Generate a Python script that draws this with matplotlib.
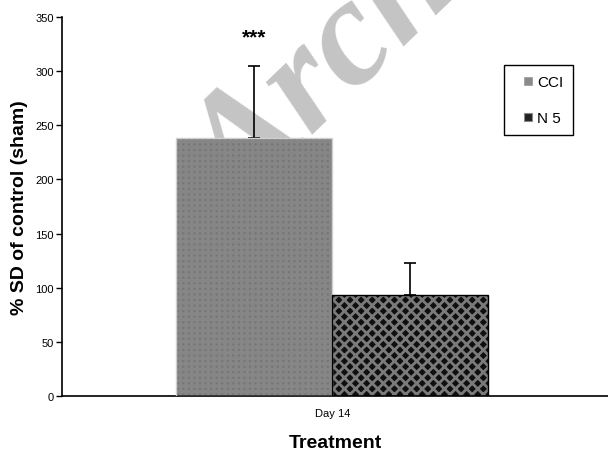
import numpy as np
import matplotlib.pyplot as plt
from matplotlib.lines import Line2D

plt.rcParams['font.family'] = ['Liberation Sans', 'DejaVu Sans']

# data
groups = ['CCI', 'N 5']
values = [238, 93]
errors = [67, 30]
category = 'Day 14'
signif = '***'

face = ['#767676', '#0f0f0f']
hatch_col = ['#868686', '#7a7a7a']
hatches = ['+++', 'xxx']
hatch_lw = [2.4, 2.0]

fig = plt.figure(figsize=(6.08, 4.52), dpi=100)
ax = fig.add_axes([0.102, 0.1217, 0.898, 0.8385])

# watermark behind everything
ax.text(0.54, 0.83, 'Arch', transform=fig.transFigure, fontsize=110,
        family='Liberation Serif', style='italic', weight='bold', color='#c4c4c4',
        rotation=44, ha='center', va='center', zorder=0, clip_on=False)

w = 0.286
xs = np.array([-w / 2, w / 2])
for i in range(len(groups)):
    plt.rcParams['hatch.linewidth'] = hatch_lw[i]
    ax.bar(xs[i], values[i], width=w, color=face[i], edgecolor=hatch_col[i],
           hatch=hatches[i], linewidth=0, zorder=2)
    ax.errorbar(xs[i], values[i], yerr=[[0], [errors[i]]], fmt='none',
                ecolor='black', elinewidth=1.2, capsize=4, capthick=1.2, zorder=1.5)
# outlines
ax.bar(xs[0], values[0], width=w, fill=False, edgecolor='#d0d0d0', linewidth=1, zorder=3)
ax.bar(xs[1], values[1], width=w, fill=False, edgecolor='black', linewidth=1, zorder=3)

ax.text(xs[0], 332, signif, ha='center', va='center', fontsize=15,
        fontweight='bold', zorder=4)

ax.set_xlim(-0.495, 0.505)
ax.set_ylim(0, 350)
ax.set_yticks(np.arange(0, 351, 50))
ax.set_xticks([0])
ax.set_xticklabels([category])
ax.tick_params(axis='x', length=0, pad=9, labelsize=8)
ax.tick_params(axis='y', length=4, width=1, labelsize=8, pad=2)
for s in ['top', 'right']:
    ax.spines[s].set_visible(False)
for s in ['left', 'bottom']:
    ax.spines[s].set_linewidth(1.2)

ax.set_ylabel('% SD of control (sham)', fontsize=14, fontweight='bold', labelpad=5)
ax.set_xlabel('Treatment', fontsize=14, fontweight='bold', labelpad=11)

handles = [Line2D([], [], ls='none', marker='s', ms=6, mfc='#8a8a8a', mec='#a0a0a0', mew=0.6),
           Line2D([], [], ls='none', marker='s', ms=6, mfc='#222222', mec='#888888', mew=0.8)]
leg = ax.legend(handles, groups, loc='upper left', bbox_to_anchor=(0.829, 0.854),
                bbox_transform=fig.transFigure, frameon=True, fancybox=False,
                edgecolor='black', fontsize=11, handlelength=1.8, handletextpad=-0.3,
                labelspacing=1.45, borderpad=0.65, borderaxespad=0, framealpha=1)
leg.get_frame().set_linewidth(1)

fig.savefig('out.png', dpi=100)
